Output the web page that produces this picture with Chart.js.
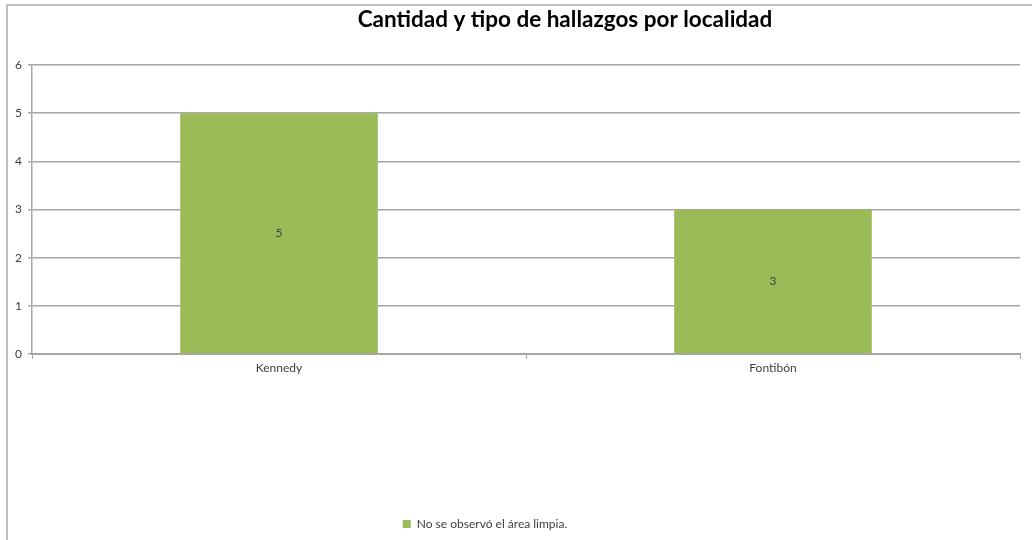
<!DOCTYPE html>
<html>
<head>
<meta charset="utf-8">
<script src="https://cdn.jsdelivr.net/npm/chart.js@4/dist/chart.umd.min.js"></script>
<style>
  html, body { margin: 0; padding: 0; background: #fff; overflow: hidden; }
  #frame { position: absolute; left: 6px; top: 4px; width: 1100px; height: 600px;
           border-top: 2px solid #bfbfbf; border-left: 2px solid #bfbfbf; }
  #wrap { position: absolute; left: 0; top: 0; width: 1032px; height: 540px; }
</style>
</head>
<body>
<div id="frame"></div>
<div id="wrap"><canvas id="c"></canvas></div>
<script>
const titleText = 'Cantidad y tipo de hallazgos por localidad';
const categories = ['Kennedy', 'Fontibón'];
const seriesName = 'No se observó el área limpia.';
const seriesValues = [5, 3];
const yTicks = [0, 1, 2, 3, 4, 5, 6];

const FONT = 'Lato, "Open Sans", sans-serif';
const GREEN = '#9bbb59';
const GRID = '#a6a6a6';
const TEXT = '#404040';

// title sits a bit right of canvas centre in the original
const titlePlugin = {
  id: 'titleText',
  afterDraw(chart) {
    const ctx = chart.ctx;
    ctx.save();
    ctx.font = 'bold 22.5px ' + FONT;
    ctx.fillStyle = '#000';
    ctx.textAlign = 'center';
    ctx.textBaseline = 'middle';
    ctx.fillText(titleText, 565, 20);
    ctx.restore();
  }
};

const valueLabels = {
  id: 'valueLabels',
  afterDatasetsDraw(chart) {
    const ctx = chart.ctx;
    const meta = chart.getDatasetMeta(0);
    ctx.save();
    ctx.font = '12px ' + FONT;
    ctx.fillStyle = TEXT;
    ctx.textAlign = 'center';
    ctx.textBaseline = 'middle';
    meta.data.forEach((bar, i) => {
      ctx.fillText(String(seriesValues[i]), bar.x, (bar.y + bar.base) / 2);
    });
    ctx.restore();
  }
};

// legend is a little left of centre
const legendShift = {
  id: 'legendShift',
  afterLayout(chart) {
    chart.legend.left -= 29;
    chart.legend.right -= 29;
  }
};

new Chart(document.getElementById('c'), {
  type: 'bar',
  data: {
    labels: categories,
    datasets: [{
      label: seriesName,
      data: seriesValues,
      backgroundColor: GREEN,
      borderWidth: 0,
      barPercentage: 0.4,
      categoryPercentage: 1
    }]
  },
  options: {
    responsive: true,
    maintainAspectRatio: false,
    animation: false,
    layout: { padding: { left: 8, right: 12, top: 65, bottom: 0 } },
    plugins: {
      title: { display: false },
      tooltip: { enabled: false },
      legend: {
        position: 'bottom',
        labels: { font: { family: FONT, size: 12 }, color: TEXT, boxWidth: 8, boxHeight: 8, padding: 10 }
      }
    },
    scales: {
      x: {
        grid: { display: true, drawOnChartArea: false, offset: true, color: GRID, tickLength: 5 },
        border: { color: GRID, width: 2 },
        ticks: { font: { family: FONT, size: 12 }, color: TEXT, padding: 2 },
        afterFit(scale) { scale.height = 154; }
      },
      y: {
        min: 0,
        max: 6,
        afterBuildTicks(scale) { scale.ticks = yTicks.map(v => ({ value: v })); },
        grid: { color: GRID, lineWidth: 1.5, tickLength: 4 },
        border: { color: GRID, width: 1.5 },
        ticks: { font: { family: FONT, size: 12 }, color: TEXT, padding: 6 },
        afterFit(scale) { scale.width = 24; }
      }
    }
  },
  plugins: [titlePlugin, valueLabels, legendShift]
});
</script>
</body>
</html>
